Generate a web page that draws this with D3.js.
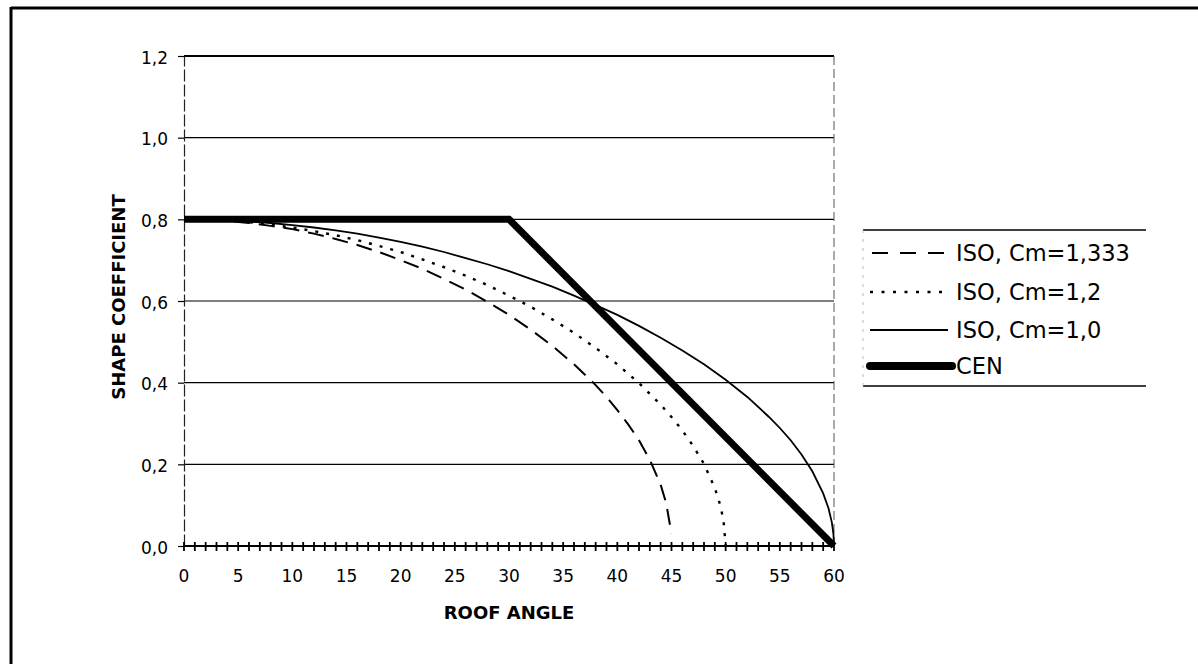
<!DOCTYPE html>
<html>
<head>
<meta charset="utf-8">
<script src="https://cdn.jsdelivr.net/npm/d3@7"></script>
<style>
  html, body { margin: 0; padding: 0; background: #fff; }
  svg { display: block; }
  text { font-family: "DejaVu Sans", sans-serif; fill: #000; }
</style>
</head>
<body>
<svg id="chart" width="1198" height="664"></svg>
<script>
// ---- data ----
const xTickValues = [0, 5, 10, 15, 20, 25, 30, 35, 40, 45, 50, 55, 60];
const yTickValues = [0, 0.2, 0.4, 0.6, 0.8, 1.0, 1.2];
const yTickLabels = ["0,0", "0,2", "0,4", "0,6", "0,8", "1,0", "1,2"];
const xTitle = "ROOF ANGLE";
const yTitle = "SHAPE COEFFICIENT";

const seriesNames = ["ISO, Cm=1,333", "ISO, Cm=1,2", "ISO, Cm=1,0", "CEN"];

const iso1333Angle = [0, 2, 4, 6, 8, 10, 12, 14, 16, 18, 20, 22, 24, 26, 28, 30, 32, 34, 36, 38, 39, 40, 41, 42, 43, 44, 44.5, 45];
const iso1333Value = [0.800, 0.799, 0.796, 0.791, 0.784, 0.776, 0.765, 0.752, 0.737, 0.720, 0.700, 0.679, 0.654, 0.628, 0.598, 0.566, 0.530, 0.490, 0.445, 0.394, 0.365, 0.333, 0.298, 0.259, 0.211, 0.150, 0.106, 0.030];

const iso12Angle = [0, 2, 4, 6, 8, 10, 12, 14, 16, 18, 20, 22, 24, 26, 28, 30, 32, 34, 36, 38, 40, 42, 44, 45, 46, 47, 48, 49, 49.5, 49.8, 50];
const iso12Value = [0.800, 0.799, 0.797, 0.793, 0.787, 0.780, 0.771, 0.761, 0.749, 0.735, 0.720, 0.702, 0.683, 0.662, 0.639, 0.613, 0.586, 0.555, 0.522, 0.485, 0.445, 0.399, 0.346, 0.316, 0.283, 0.245, 0.201, 0.142, 0.100, 0.063, 0.000];

const iso10Angle = [0, 2, 4, 6, 8, 10, 12, 14, 16, 18, 20, 22, 24, 26, 28, 30, 32, 34, 36, 38, 40, 42, 44, 46, 48, 50, 52, 54, 55, 56, 57, 58, 59, 59.5, 59.8, 59.95, 60];
const iso10Value = [0.800, 0.800, 0.798, 0.795, 0.791, 0.786, 0.780, 0.773, 0.765, 0.755, 0.745, 0.733, 0.720, 0.705, 0.690, 0.673, 0.654, 0.635, 0.613, 0.590, 0.566, 0.539, 0.510, 0.479, 0.445, 0.407, 0.365, 0.316, 0.289, 0.259, 0.224, 0.183, 0.129, 0.092, 0.058, 0.029, 0.000];

const cenAngle = [0, 30, 60];
const cenValue = [0.8, 0.8, 0.0];

// ---- layout ----
const svg = d3.select("#chart");
const plot = { left: 184, right: 834, top: 56, bottom: 546 };
const x = d3.scaleLinear().domain([0, 60]).range([plot.left, plot.right]);
const y = d3.scaleLinear().domain([0, 1.2]).range([plot.bottom, plot.top]);

// outer frame (top + left visible in the scan)
svg.append("line").attr("x1", 11).attr("x2", 1198).attr("y1", 8).attr("y2", 8)
  .attr("stroke", "#000").attr("stroke-width", 3);
svg.append("line").attr("x1", 11).attr("x2", 11).attr("y1", 7).attr("y2", 664)
  .attr("stroke", "#000").attr("stroke-width", 3);

// horizontal gridlines
svg.append("g").selectAll("line")
  .data(yTickValues.filter(v => v > 0))
  .join("line")
  .attr("x1", plot.left).attr("x2", plot.right)
  .attr("y1", d => y(d)).attr("y2", d => y(d))
  .attr("stroke", "#000").attr("stroke-width", d => d === 1.2 ? 1.8 : 1.1);

// plot-area right border (broken in the scan)
svg.append("line").attr("x1", plot.right).attr("x2", plot.right)
  .attr("y1", plot.top).attr("y2", plot.bottom)
  .attr("stroke", "#555").attr("stroke-width", 1).attr("stroke-dasharray", "9,4");

// y axis
const yAxis = d3.axisLeft(y).tickValues(yTickValues)
  .tickFormat((d, i) => yTickLabels[i]).tickSize(6).tickSizeOuter(0).tickPadding(10);
const gy = svg.append("g").attr("transform", `translate(${plot.left},0)`).call(yAxis);
gy.select(".domain").attr("stroke", "#222").attr("stroke-width", 1.2).attr("stroke-dasharray", "12,3");
gy.selectAll(".tick line").attr("stroke", "#000").attr("stroke-width", 1.2);
gy.selectAll(".tick text").attr("font-size", 17).attr("font-family", "DejaVu Sans").attr("dy", "0.42em").attr("fill", "#000");

// x axis: labels every 5, crossing ticks every 1 degree
const gx = svg.append("g").attr("transform", `translate(0,${plot.bottom})`);
gx.append("line").attr("x1", plot.left).attr("x2", plot.right).attr("y1", 0).attr("y2", 0)
  .attr("stroke", "#000").attr("stroke-width", 2.2);
gx.selectAll("line.minor")
  .data(x.ticks(60))
  .join("line").attr("class", "minor")
  .attr("x1", d => x(d)).attr("x2", d => x(d))
  .attr("y1", -4).attr("y2", 5)
  .attr("stroke", "#000").attr("stroke-width", 1.8);
gx.selectAll("text")
  .data(xTickValues)
  .join("text")
  .attr("x", d => x(d)).attr("y", 36)
  .attr("text-anchor", "middle")
  .attr("font-size", 17)
  .text(d => d);

// axis titles
svg.append("text").attr("x", (plot.left + plot.right) / 2).attr("y", 619)
  .attr("text-anchor", "middle").attr("font-weight", "bold").attr("font-size", 18)
  .text(xTitle);
svg.append("text")
  .attr("transform", `translate(125,${(plot.top + plot.bottom) / 2 - 4}) rotate(-90)`)
  .attr("text-anchor", "middle").attr("font-weight", "bold").attr("font-size", 18)
  .text(yTitle);

// series
const line = d3.line().x(d => x(d[0])).y(d => y(d[1]));
const styles = [
  { dash: "16,9", width: 2.0 },
  { dash: "3,8", width: 2.4 },
  { dash: null, width: 1.8 },
  { dash: null, width: 7 }
];
const seriesData = [
  d3.zip(iso1333Angle, iso1333Value),
  d3.zip(iso12Angle, iso12Value),
  d3.zip(iso10Angle, iso10Value),
  d3.zip(cenAngle, cenValue)
];
const gs = svg.append("g");
seriesData.forEach((pts, i) => {
  gs.append("path").datum(pts)
    .attr("d", line)
    .attr("fill", "none")
    .attr("stroke", "#000")
    .attr("stroke-width", styles[i].width)
    .attr("stroke-dasharray", styles[i].dash)
    .attr("stroke-linejoin", "miter")
    .attr("stroke-linecap", "butt");
});

// legend
const lg = { left: 863, right: 1146, top: 230, bottom: 386 };
svg.append("line").attr("x1", lg.left).attr("x2", lg.right).attr("y1", lg.top).attr("y2", lg.top)
  .attr("stroke", "#000").attr("stroke-width", 1.5);
svg.append("line").attr("x1", lg.left).attr("x2", lg.right).attr("y1", lg.bottom).attr("y2", lg.bottom)
  .attr("stroke", "#000").attr("stroke-width", 1.5);
svg.append("line").attr("x1", lg.left).attr("x2", lg.left).attr("y1", lg.top).attr("y2", lg.bottom)
  .attr("stroke", "#bbb").attr("stroke-width", 1).attr("stroke-dasharray", "3,6");

const legendRows = [253, 292, 330, 366];
const legendDash = ["16,12", "3,8.5", null, null];
seriesNames.forEach((name, i) => {
  const yy = legendRows[i];
  svg.append("line")
    .attr("x1", i === 0 ? 872 : 870).attr("x2", i === 3 ? 952 : 948)
    .attr("y1", yy).attr("y2", yy)
    .attr("stroke", "#000")
    .attr("stroke-width", i === 3 ? 8 : (i === 1 ? 2.4 : 2))
    .attr("stroke-dasharray", legendDash[i])
    .attr("stroke-linecap", i === 3 ? "round" : "butt");
  svg.append("text")
    .attr("x", 956).attr("y", yy).attr("dy", "0.36em")
    .attr("font-size", 22.5)
    .text(name);
});
</script>
</body>
</html>
